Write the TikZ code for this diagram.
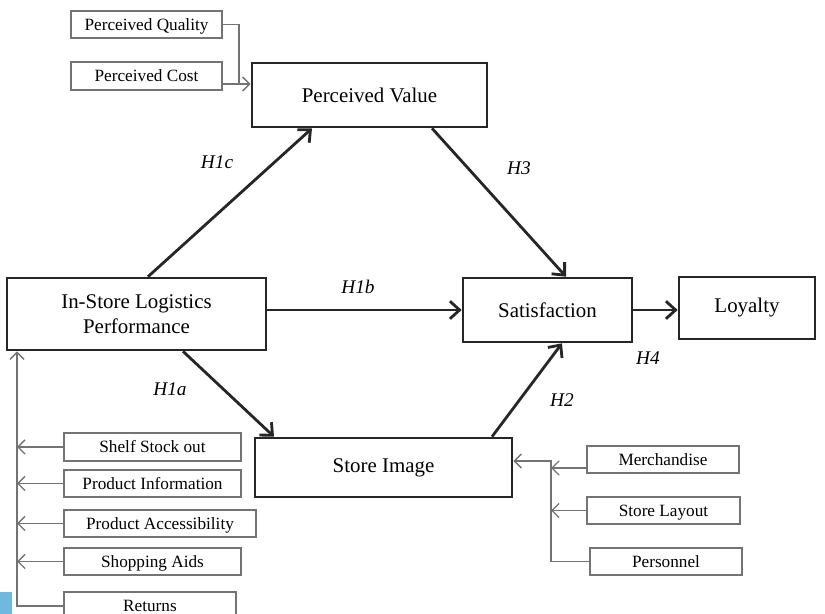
\documentclass[tikz,border=0pt]{standalone}
\usepackage{fontspec}
\setmainfont{Liberation Serif}
\usetikzlibrary{arrows.meta}

\definecolor{edgecyan}{RGB}{110,185,220}

\begin{document}
\begin{tikzpicture}[x=0.02cm, y=-0.02cm,
    mainbox/.style={draw=black!85, line width=1.5pt, inner sep=0pt, align=center,
        font=\fontsize{11.9}{14}\selectfont},
    subbox/.style={draw=black!55, line width=0.8pt, inner sep=0pt,
        text height=0.68em, text depth=0pt, font=\fontsize{9.8}{12}\selectfont},
    sz/.style 2 args={minimum width=#1*0.02cm, minimum height=#2*0.02cm},
    hyp/.style={font=\fontsize{11}{13}\selectfont\itshape},
    effect/.style={draw=black!85, line width=1.6pt, -{Straight Barb[length=5.5pt, width=10pt]}},
    feed/.style={draw=black!55, line width=0.8pt},
    feedarrow/.style={feed, -{Straight Barb[length=4pt, width=8pt]}}]

    \useasboundingbox (0,0) rectangle (825,614);
    \clip (0,0) rectangle (825,614);

    % --- Main constructs ---
    \node[mainbox, sz={235}{64}] (pv)  at (369.5,95)  {Perceived Value};
    \node[mainbox, sz={259}{72}] (isl) at (136.5,314) {In-Store Logistics\\Performance};
    \node[mainbox, sz={169}{64}] (sat) at (547.5,310) {Satisfaction};
    \node[mainbox, sz={136}{62}] (loy) at (747,308)   {Loyalty};
    \node[mainbox, sz={257}{59}] (si)  at (383.5,467.5) {Store Image};

    % --- Perceived value items ---
    \node[subbox, sz={151}{27}] (pq) at (146.5,24.5) {Perceived Quality};
    \node[subbox, sz={151}{28}] (pc) at (146.5,76)   {Perceived Cost};

    % --- Logistics items ---
    \node[subbox, sz={177}{28}] (sso)  at (152.5,447)   {Shelf Stock out};
    \node[subbox, sz={177}{27}] (pinf) at (152.5,483.5) {Product Information};
    \node[subbox, sz={192}{27}] (pacc) at (160,523.5)   {Product Accessibility};
    \node[subbox, sz={177}{27}] (sa)   at (152.5,561.5) {Shopping Aids};
    \node[subbox, sz={172}{28}] (ret)  at (150,606)     {Returns};

    % --- Store image items ---
    \node[subbox, sz={152}{27}] (mer) at (663,459.5) {Merchandise};
    \node[subbox, sz={153}{27}] (sl)  at (663.5,510.5) {Store Layout};
    \node[subbox, sz={152}{27}] (per) at (666,561.5) {Personnel};

    % --- Hypotheses ---
    \draw[effect] (isl.north -| 148,0) -- (pv.south -| 312,0);
    \draw[effect] (pv.south -| 432,0) -- (sat.north -| 566,0);
    \draw[effect] (isl.east |- 0,310) -- (sat.west |- 0,310);
    \draw[effect] (sat.east) -- (loy.west |- sat.east);
    \draw[effect] (isl.south -| 183,0) -- (si.north -| 274,0);
    \draw[effect] (si.north -| 492,0) -- (sat.south -| 562,0);

    \node[hyp] (h1c) at (217,162) {H1c};
    \node[hyp] (h3)  at (519,168) {H3};
    \node[hyp] (h1b) at (358,287) {H1b};
    \node[hyp] (h4)  at (648,358) {H4};
    \node[hyp] (h1a) at (170,389) {H1a};
    \node[hyp] (h2)  at (562,400) {H2};

    % --- Item connectors ---
    \coordinate (pvbus) at (239,84);
    \draw[feed] (pq.east) -| (pvbus);
    \draw[feedarrow] (pc.east |- pvbus) -- (pv.west |- pvbus);

    \coordinate (islbus) at (17,350);
    \draw[feedarrow] (ret.west) -| (isl.south -| islbus);
    \foreach \item in {sso, pinf, pacc, sa}
        \draw[feedarrow] (\item.west) -- (\item.west -| islbus);

    \coordinate (sibus) at (551,461);
    \draw[feedarrow] (per.west) -| (sibus) -- (si.east |- sibus);
    \draw[feedarrow] (mer.west |- 0,468) -- (sibus |- 0,468);
    \draw[feedarrow] (sl.west) -- (sl.west -| sibus);

    \fill[edgecyan] (0,592) rectangle (12,614);

\end{tikzpicture}
\end{document}
